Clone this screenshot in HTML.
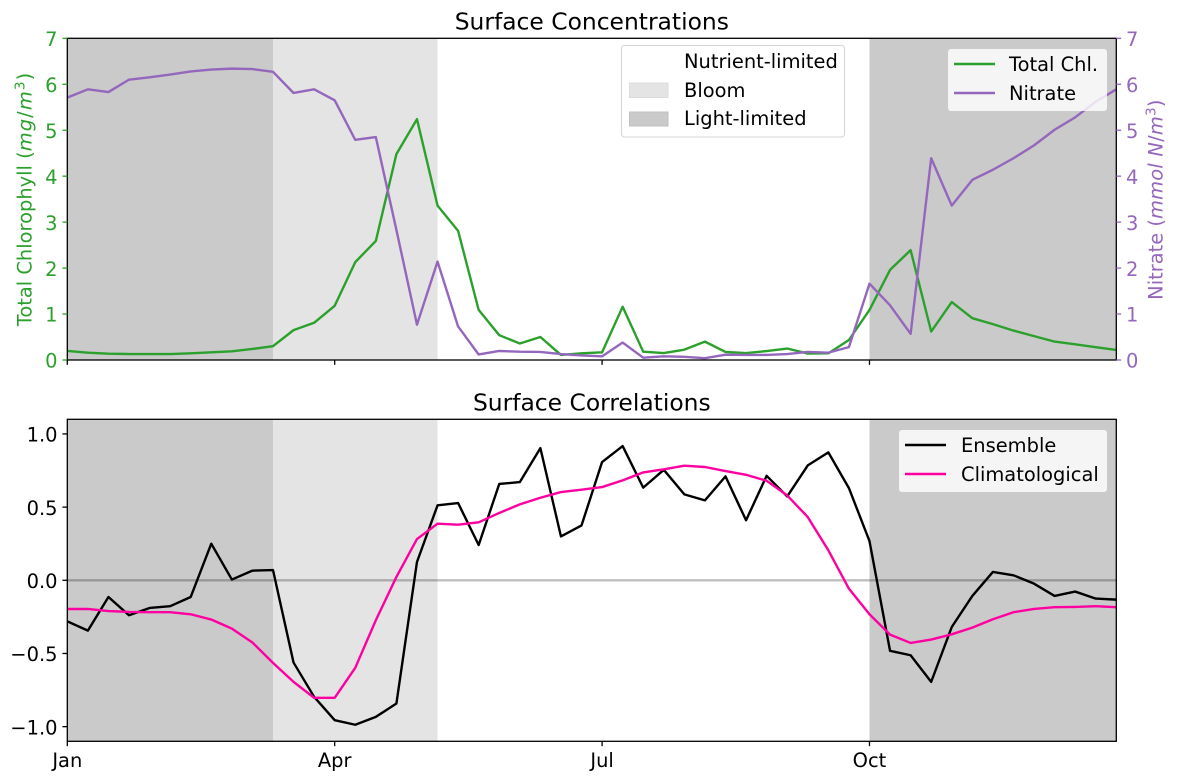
<!DOCTYPE html>
<html>
<head>
<meta charset="utf-8">
<title>Surface Concentrations and Correlations</title>
<style>
html,body{margin:0;padding:0;background:#fff;width:1177px;height:782px;overflow:hidden}
svg{display:block}
text{font-family:"DejaVu Sans","Liberation Sans",sans-serif}
</style>
</head>
<body>
<svg id="fig" xmlns="http://www.w3.org/2000/svg" width="1177" height="782" viewBox="0 0 1177 782">
  <defs>
    <clipPath id="clip-top"><rect x="67.3" y="38.3" width="1049" height="321.7"/></clipPath>
    <clipPath id="clip-bottom"><rect x="67.3" y="419.3" width="1049" height="322"/></clipPath>
  </defs>
  <g id="top-spans"></g>
  <g id="bottom-spans"></g>
  <line id="zero-line" stroke="#000" stroke-opacity="0.25" stroke-width="2.4"/>
  <g id="top-lines" clip-path="url(#clip-top)"></g>
  <g id="bottom-lines" clip-path="url(#clip-bottom)"></g>

  <rect x="67.3" y="38.3" width="1049" height="321.7" fill="none" stroke="#000" stroke-width="1.3"/>
  <rect x="67.3" y="419.3" width="1049" height="322" fill="none" stroke="#000" stroke-width="1.3"/>
  <g id="ticks"></g>

  <text x="591.8" y="29.5" font-size="23.4" text-anchor="middle" fill="#000">Surface Concentrations</text>
  <text x="591.8" y="410.5" font-size="23.4" text-anchor="middle" fill="#000">Surface Correlations</text>

  <text transform="translate(31.5,199.5) rotate(-90)" font-size="19.44" text-anchor="middle" fill="#2ca02c">Total Chlorophyll (<tspan letter-spacing="1.1"><tspan font-style="italic">mg</tspan>/<tspan font-style="italic">m</tspan><tspan font-size="13.6" dy="-7">3</tspan></tspan><tspan dy="7">)</tspan></text>
  <text transform="translate(1162.5,199.7) rotate(-90)" font-size="19.44" text-anchor="middle" fill="#9467bd">Nitrate (<tspan letter-spacing="0.2"><tspan font-style="italic">mmol N</tspan>/<tspan font-style="italic">m</tspan><tspan font-size="13.6" dy="-7">3</tspan></tspan><tspan dy="7">)</tspan></text>

  <g>
    <rect x="621.5" y="45.5" width="223" height="91.5" rx="3" fill="#fff" fill-opacity="0.8" stroke="#ccc" stroke-opacity="0.8" stroke-width="1.11"/>
    <rect x="629" y="54" width="39" height="14" fill="#fff"/>
    <text x="684" y="68" font-size="19.44" fill="#000">Nutrient-limited</text>
    <rect x="629.5" y="83" width="38.5" height="14.5" fill="#e4e4e4" stroke="#dcdcdc" stroke-width="1"/>
    <text x="684" y="97" font-size="19.44" fill="#000">Bloom</text>
    <rect x="629.5" y="112" width="38.5" height="14" fill="#cacaca" stroke="#c0c0c0" stroke-width="1"/>
    <text x="684" y="125" font-size="19.44" fill="#000">Light-limited</text>
  </g>

  <g>
    <rect x="948" y="49" width="159" height="62" rx="3" fill="#fff" fill-opacity="0.8"/>
    <line x1="954" x2="995" y1="64" y2="64" stroke="#2ca02c" stroke-width="2.4"/>
    <text x="1009" y="71" font-size="19.44" fill="#000">Total Chl.</text>
    <line x1="954" x2="995" y1="93" y2="93" stroke="#9467bd" stroke-width="2.4"/>
    <text x="1009" y="100" font-size="19.44" fill="#000">Nitrate</text>
  </g>

  <g>
    <rect x="899" y="430" width="208" height="62" rx="3" fill="#fff" fill-opacity="0.8"/>
    <line x1="905" x2="946" y1="445" y2="445" stroke="#000" stroke-width="2.4"/>
    <text x="961" y="452" font-size="19.44" fill="#000">Ensemble</text>
    <line x1="905" x2="946" y1="474" y2="474" stroke="#ff00a0" stroke-width="2.4"/>
    <text x="961" y="481" font-size="19.44" fill="#000">Climatological</text>
  </g>
</svg>
<script>
const weeks = 52;
const chlValues = [0.196,0.16,0.138,0.13,0.13,0.13,0.145,0.167,0.19,0.24,0.30,0.65,0.81,1.18,2.13,2.59,4.48,5.24,3.36,2.81,1.09,0.54,0.36,0.50,0.11,0.145,0.167,1.16,0.18,0.15,0.225,0.40,0.175,0.15,0.195,0.25,0.14,0.145,0.435,1.09,1.96,2.39,0.62,1.26,0.91,0.78,0.64,0.52,0.40,0.34,0.28,0.22];
const nitrateValues = [5.71,5.89,5.83,6.10,6.15,6.21,6.28,6.32,6.34,6.33,6.27,5.81,5.89,5.65,4.79,4.85,2.83,0.77,2.14,0.73,0.12,0.196,0.18,0.175,0.13,0.10,0.08,0.38,0.05,0.08,0.07,0.04,0.115,0.11,0.11,0.13,0.175,0.16,0.28,1.66,1.19,0.57,4.39,3.36,3.92,4.14,4.39,4.67,5.01,5.28,5.62,5.89];
const ensembleValues = [-0.28,-0.344,-0.114,-0.239,-0.189,-0.177,-0.114,0.25,0.005,0.066,0.07,-0.562,-0.796,-0.956,-0.987,-0.933,-0.842,0.125,0.512,0.528,0.241,0.658,0.671,0.903,0.30,0.375,0.808,0.917,0.633,0.755,0.587,0.546,0.71,0.41,0.714,0.573,0.785,0.874,0.63,0.268,-0.482,-0.512,-0.694,-0.319,-0.107,0.057,0.034,-0.023,-0.107,-0.077,-0.125,-0.132];
const climatologicalValues = [-0.196,-0.196,-0.21,-0.216,-0.218,-0.218,-0.232,-0.268,-0.33,-0.425,-0.564,-0.694,-0.803,-0.803,-0.598,-0.273,0.023,0.282,0.387,0.38,0.396,0.46,0.519,0.564,0.603,0.619,0.637,0.683,0.737,0.758,0.783,0.774,0.746,0.721,0.68,0.58,0.432,0.205,-0.057,-0.232,-0.371,-0.428,-0.405,-0.369,-0.323,-0.266,-0.218,-0.196,-0.184,-0.182,-0.177,-0.184];
const monthLabels = ["Jan","Apr","Jul","Oct"];
const monthWeeks = [0,13,26,39];
const concTicks = [0,1,2,3,4,5,6,7];
const corrTicks = [-1,-0.5,0,0.5,1];
const corrTickLabels = ["\u22121.0","\u22120.5","0.0","0.5","1.0"];
const seasonNames = ["light-limited-winter","bloom","light-limited-autumn"];
const seasonStarts = [0,10,39];
const seasonEnds = [10,18,51];
const seasonColors = ["#cacaca","#e4e4e4","#cacaca"];

const NS = "http://www.w3.org/2000/svg";
const AX = {left:67.3,right:1116.3,topA:38.3,botA:360,topB:419.3,botB:741.3};
function xScale(w){return AX.left+(AX.right-AX.left)*w/(weeks-1);}
function yConc(v){return AX.botA-(AX.botA-AX.topA)*v/7;}
function yCorr(v){return AX.botB-(AX.botB-AX.topB)*(v+1.1)/2.2;}
function make(tag,attrs,parent){
  const el=document.createElementNS(NS,tag);
  for(const k in attrs){el.setAttribute(k,attrs[k]);}
  parent.appendChild(el);
  return el;
}
function drawSeries(values,scale,color,name,parent){
  const d=values.map((v,i)=>xScale(i).toFixed(2)+","+scale(v).toFixed(2)).join(" ");
  const el=make("polyline",{points:d,fill:"none",stroke:color,"stroke-width":2.4,"stroke-linejoin":"round"},parent);
  
  
}
function drawSpans(parent,y,h,prefix){
  seasonNames.forEach((n,i)=>{
    const el=make("rect",{x:xScale(seasonStarts[i]),y:y,width:xScale(seasonEnds[i])-xScale(seasonStarts[i]),height:h,fill:seasonColors[i]},parent);
    
    
  });
}
drawSpans(document.getElementById("top-spans"),AX.topA,AX.botA-AX.topA,"top");
drawSpans(document.getElementById("bottom-spans"),AX.topB,AX.botB-AX.topB,"bottom");
const zero=document.getElementById("zero-line");
zero.setAttribute("x1",AX.left);
zero.setAttribute("x2",AX.right);
zero.setAttribute("y1",yCorr(0));
zero.setAttribute("y2",yCorr(0));
const topLines=document.getElementById("top-lines");
const botLines=document.getElementById("bottom-lines");
drawSeries(chlValues,yConc,"#2ca02c","total-chl-line",topLines);
drawSeries(nitrateValues,yConc,"#9467bd","nitrate-line",topLines);
drawSeries(ensembleValues,yCorr,"#000","ensemble-line",botLines);
drawSeries(climatologicalValues,yCorr,"#ff00a0","climatological-line",botLines);

const ticks=document.getElementById("ticks");
function tickLine(x1,y1,x2,y2,color,name){
  const el=make("line",{x1:x1,y1:y1,x2:x2,y2:y2,stroke:color,"stroke-width":1.3},ticks);
  
  
}
function tickText(x,y,str,color,anchor,name){
  const el=make("text",{x:x,y:y,fill:color,"font-size":19.44,"text-anchor":anchor},ticks);
  el.textContent=str;
  
  
}
concTicks.forEach(v=>{
  const y=yConc(v);
  tickLine(AX.left-4.86,y,AX.left,y,"#2ca02c","left-y-tick-"+v);
  tickText(57.5,y+7.7,String(v),"#2ca02c","end","left-y-tick-label-"+v);
  tickLine(AX.right,y,AX.right+4.86,y,"#9467bd","right-y-tick-"+v);
  tickText(1126,y+7.7,String(v),"#9467bd","start","right-y-tick-label-"+v);
});
corrTicks.forEach((v,i)=>{
  const y=yCorr(v);
  tickLine(AX.left-4.86,y,AX.left,y,"#000","corr-y-tick-"+i);
  tickText(57.5,y+7.7,corrTickLabels[i],"#000","end","corr-y-tick-label-"+i);
});
monthWeeks.forEach((w,i)=>{
  const x=xScale(w);
  tickLine(x,AX.botA,x,AX.botA+4.86,"#000","top-x-tick-"+monthLabels[i].toLowerCase());
  tickLine(x,AX.botB,x,AX.botB+4.86,"#000","bottom-x-tick-"+monthLabels[i].toLowerCase());
  tickText(x,767,monthLabels[i],"#000","middle","x-tick-label-"+monthLabels[i].toLowerCase());
});
</script>
</body>
</html>
